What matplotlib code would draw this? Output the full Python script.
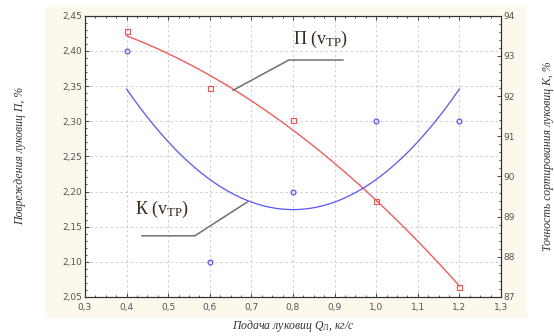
import matplotlib
matplotlib.use('Agg')
import matplotlib.pyplot as plt
from matplotlib.ticker import AutoMinorLocator, FuncFormatter
from matplotlib.patches import Rectangle
import numpy as np

# feed rate of bulbs, kg/s
feed = [0.4, 0.6, 0.8, 1.0, 1.2]
# damage of bulbs П, % (left axis)
damage = [2.428, 2.347, 2.302, 2.186, 2.064]
# sorting accuracy К, % (right axis)
accuracy = [93.125, 87.875, 89.625, 91.375, 91.375]

x_ticks = [0.3, 0.4, 0.5, 0.6, 0.7, 0.8, 0.9, 1.0, 1.1, 1.2, 1.3]
left_ticks = [2.05, 2.10, 2.15, 2.20, 2.25, 2.30, 2.35, 2.40, 2.45]
right_ticks = [87, 88, 89, 90, 91, 92, 93, 94]

RED = '#ff4a4a'
BLUE = '#5555ff'
TICK_COL = '#555555'

plt.rcParams['mathtext.fontset'] = 'custom'
plt.rcParams['mathtext.rm'] = 'Liberation Serif'
plt.rcParams['mathtext.it'] = 'Liberation Serif:italic'

fig = plt.figure(figsize=(5.54, 3.36), dpi=100)
fig.patches.append(Rectangle((45 / 554, 1 - 318 / 336), (527 - 45) / 554, (318 - 7) / 336,
                             transform=fig.transFigure, facecolor='#fdf8ec',
                             edgecolor='none', zorder=-10))

ax = fig.add_axes([85 / 554, 1 - 297 / 336, 416 / 554, (297 - 15.7) / 336])
ax.set_facecolor('white')
ax2 = ax.twinx()

# fitted curves (2nd order) through measured points
xs = np.linspace(feed[0], feed[-1], 200)
p_fit = np.polyfit(feed, damage, 2)
k_fit = np.polyfit(feed, accuracy, 2)

ax.plot(xs, np.polyval(p_fit, xs), color=RED, lw=0.9, zorder=3)
ax.plot(feed, damage, ls='none', marker='s', ms=3.6, mfc='none', mec=RED, mew=0.8, zorder=4)
ax2.plot(xs, np.polyval(k_fit, xs), color=BLUE, lw=0.9, zorder=3)
ax2.plot(feed, accuracy, ls='none', marker='o', ms=3.4, mfc='none', mec=BLUE, mew=0.9, zorder=4)

ax.set_xlim(0.3, 1.3)
ax.set_ylim(2.05, 2.45)
ax2.set_ylim(87, 94)
ax.set_xticks(x_ticks)
ax.set_yticks(left_ticks)
ax2.set_yticks(right_ticks)

comma = FuncFormatter(lambda v, p: f'{v:.1f}'.replace('.', ','))
comma2 = FuncFormatter(lambda v, p: f'{v:.2f}'.replace('.', ','))
ax.xaxis.set_major_formatter(comma)
ax.yaxis.set_major_formatter(comma2)
ax.xaxis.set_minor_locator(AutoMinorLocator(4))
ax.yaxis.set_minor_locator(AutoMinorLocator(5))
ax2.yaxis.set_minor_locator(AutoMinorLocator(5))

for a in (ax, ax2):
    a.tick_params(which='both', direction='in', colors='#333333', labelcolor=TICK_COL,
                  labelsize=6.5, width=0.6)
    a.tick_params(which='major', length=3)
    a.tick_params(which='minor', length=1.5)
    for s in a.spines.values():
        s.set_color('#333333')
        s.set_linewidth(0.8)
ax.tick_params(axis='x', which='both', top=True, pad=4)
ax.tick_params(axis='y', which='both', pad=2)
ax2.tick_params(which='both', pad=2)

ax.grid(True, which='major', ls=(0, (3, 3)), color='#c8c8c8', lw=0.6)
ax.set_axisbelow(True)

lab = dict(family='Liberation Serif', style='italic', fontsize=8.5, color='#333333')
ax.set_xlabel('Подача луковиц $\\mathit{Q}_{\\mathrm{Л}}$, кг/с', labelpad=5, **lab)
ax.set_ylabel('Повреждения луковиц П, %', labelpad=26, **lab)
ax2.set_ylabel('Точность сортирования луковиц К, %', labelpad=19, **lab)

# annotations with leader lines
ann = dict(family='Liberation Serif', fontsize=13, color='#3a2a1a', ha='center', va='center')
ax.text(0.865, 2.416, 'П (v$_{\\mathrm{ТР}}$)', **ann)
ax.text(0.485, 2.175, 'К (v$_{\\mathrm{ТР}}$)', **ann)
ax.plot([0.656, 0.79, 0.92], [2.344, 2.387, 2.387], color='#707070', lw=1.1, zorder=5)
ax.plot([0.437, 0.564, 0.69], [2.137, 2.137, 2.185], color='#707070', lw=1.1, zorder=5)

fig.savefig('out.png', dpi=100)
